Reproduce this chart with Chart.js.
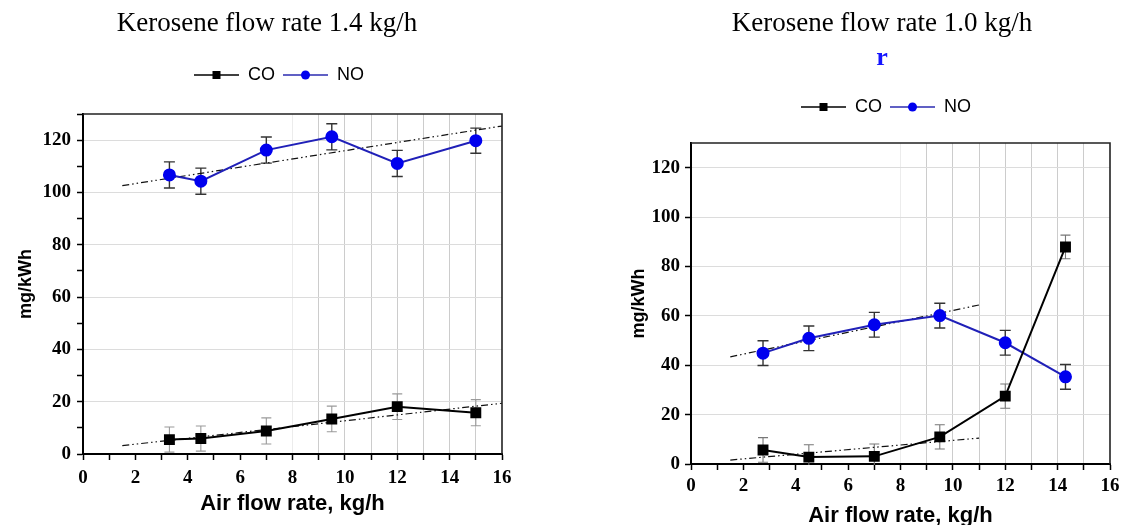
<!DOCTYPE html>
<html>
<head>
<meta charset="utf-8">
<script src="https://cdn.jsdelivr.net/npm/chart.js@4/dist/chart.umd.min.js"></script>
<style>
  html, body { margin: 0; padding: 0; background: #fff; overflow: hidden; width: 1121px; height: 525px; }
  .box { position: absolute; top: 0; }
</style>
</head>
<body>
<div class="box" style="left:0px;width:558px;height:525px;"><canvas id="c1" width="558" height="525"></canvas></div>
<div class="box" style="left:612px;width:538px;height:540px;"><canvas id="c2" width="538" height="540"></canvas></div>
<script>
// ---------- DATA ----------
const seriesNames = ['CO', 'NO'];
const xTickValues = [0, 2, 4, 6, 8, 10, 12, 14, 16];
const yTickValues = [0, 20, 40, 60, 80, 100, 120];

// Kerosene 1.4 kg/h
const airL   = [3.3, 4.5, 7, 9.5, 12, 15];
const coL    = [5.5, 5.9, 8.8, 13.4, 18.1, 15.8];
const coErrL = [4.8, 4.8, 5.0, 4.9, 4.9, 5.0];
const noL    = [106.7, 104.3, 116.2, 121.3, 111.1, 119.8];
const noErrL = [5.0, 5.0, 5.0, 5.0, 5.0, 4.8];
const trendXL   = [1.5, 16];
const coTrendL  = [3.2, 19.4];
const noTrendL  = [102.6, 125.4];

// Kerosene 1.0 kg/h
const airR   = [2.75, 4.5, 7, 9.5, 12, 14.3];
const coR    = [5.7, 2.8, 3.1, 11.0, 27.5, 87.9];
const coErrR = [5.0, 5.0, 5.0, 4.9, 4.9, 4.8];
const noR    = [44.9, 50.9, 56.4, 60.1, 49.1, 35.3];
const noErrR = [5.0, 5.0, 5.0, 5.0, 5.0, 5.0];
const trendXR   = [1.5, 11];
const coTrendR  = [1.6, 10.5];
const noTrendR  = [43.4, 64.4];

// ---------- HELPERS ----------
const pts = (xs, ys) => xs.map((x, i) => ({ x: x, y: ys[i] }));

function legendIcon(kind) {
  const c = document.createElement('canvas');
  c.width = 45; c.height = 12;
  const g = c.getContext('2d');
  g.strokeStyle = kind === 'co' ? '#000' : '#2b2bb0';
  g.lineWidth = 1.6;
  g.beginPath(); g.moveTo(0, 6); g.lineTo(45, 6); g.stroke();
  g.fillStyle = kind === 'co' ? '#000' : '#0000ee';
  if (kind === 'co') { g.fillRect(18.5, 2, 8, 8); }
  else { g.beginPath(); g.arc(22.5, 6, 4.5, 0, Math.PI * 2); g.fill(); }
  return c;
}
const icons = [legendIcon('co'), legendIcon('no')];

const errorBars = {
  id: 'errorBars',
  beforeDatasetsDraw(chart) {
    const { ctx, chartArea, scales } = chart;
    const xs = scales.x, ys = scales.y;
    ctx.save();
    ctx.beginPath();
    ctx.rect(chartArea.left, chartArea.top, chartArea.right - chartArea.left, chartArea.bottom - chartArea.top + 1);
    ctx.clip();
    chart.data.datasets.forEach(ds => {
      if (!ds.errors) return;
      ctx.strokeStyle = ds.errorColor;
      ctx.lineWidth = ds.errorWidth;
      ds.data.forEach((p, i) => {
        const e = ds.errors[i];
        const px = xs.getPixelForValue(p.x);
        const top = ys.getPixelForValue(p.y + e);
        const bot = ys.getPixelForValue(p.y - e);
        const c = ds.capHalf;
        ctx.beginPath();
        ctx.moveTo(px, top); ctx.lineTo(px, bot);
        ctx.moveTo(px - c, top); ctx.lineTo(px + c, top);
        ctx.moveTo(px - c, bot); ctx.lineTo(px + c, bot);
        ctx.stroke();
      });
    });
    ctx.restore();
  }
};

const frame = {
  id: 'frame',
  afterDraw(chart) {
    const { ctx, chartArea } = chart;
    ctx.save();
    ctx.strokeStyle = '#222';
    ctx.lineWidth = 1.6;
    ctx.beginPath();
    ctx.moveTo(chartArea.left, chartArea.top);
    ctx.lineTo(chartArea.right, chartArea.top);
    ctx.lineTo(chartArea.right, chartArea.bottom);
    ctx.stroke();
    ctx.restore();
  }
};

// adds extra space below the legend and recentres title / subtitle / legend horizontally
const shiftBoxes = {
  id: 'shiftBoxes',
  beforeLayout(chart, args, opts) {
    const lg = chart.legend;
    if (lg && !lg._extraPatched) {
      const origFit = lg.fit;
      lg.fit = function () { origFit.call(this); this.height += (opts.legendExtra || 0); };
      lg._extraPatched = true;
    }
  },
  afterLayout(chart, args, opts) {
    chart.boxes.forEach(box => {
      let target = null;
      if (box === chart.legend) target = opts.legend;
      else if (box === chart.titleBlock) target = opts.title;
      else if (box.options && typeof box.options.text === 'string' && !box.axis) target = opts.subtitle;
      if (target == null) return;
      const dx = target - (box.left + box.right) / 2;
      box.left += dx; box.right += dx;
    });
  }
};

function makeChart(id, cfg) {
  const datasets = [
    { label: seriesNames[0], data: pts(cfg.air, cfg.co), errors: cfg.coErr,
      errorColor: cfg.coErrColor, errorWidth: 1.1, capHalf: 5,
      borderColor: '#000', backgroundColor: '#000', borderWidth: 2,
      pointStyle: 'rect', pointRadius: 6.3, pointHoverRadius: 6.3 },
    { label: seriesNames[1], data: pts(cfg.air, cfg.no), errors: cfg.noErr,
      errorColor: '#333', errorWidth: 1.4, capHalf: 5.5,
      borderColor: '#2020b8', backgroundColor: '#0000ee', pointBorderColor: '#0000ee', borderWidth: 2,
      pointStyle: 'circle', pointRadius: 5.5, pointHoverRadius: 5.5 },
    { label: 'CO trend', data: pts(cfg.trendX, cfg.coTrend),
      borderColor: '#111', borderWidth: 1.2, borderDash: [7, 3, 1.5, 3, 1.5, 3], pointRadius: 0 },
    { label: 'NO trend', data: pts(cfg.trendX, cfg.noTrend),
      borderColor: '#111', borderWidth: 1.2, borderDash: [7, 3, 1.5, 3, 1.5, 3], pointRadius: 0 }
  ];
  const tickFont = { family: 'Liberation Serif', weight: 'bold', size: 19 };
  return new Chart(document.getElementById(id), {
    type: 'line',
    data: { datasets },
    plugins: [errorBars, frame, shiftBoxes],
    options: {
      responsive: false,
      animation: false,
      devicePixelRatio: 1,
      layout: { padding: { top: 0, left: 0, right: cfg.padRight, bottom: 0 } },
      plugins: {
        tooltip: { enabled: false },
        title: { display: true, text: cfg.title, color: '#000',
                 font: { family: 'Liberation Serif', size: 27, weight: 'normal' },
                 padding: { top: 7.8, bottom: cfg.titleBottom } },
        subtitle: { display: !!cfg.subtitle, text: cfg.subtitle || '', color: '#1515ff',
                    font: { family: 'Liberation Serif', size: 26, weight: 'bold' },
                    padding: { top: 2.1, bottom: 16.5 } },
        legend: {
          display: true,
          labels: {
            usePointStyle: true, pointStyleWidth: 45, boxHeight: 12, padding: 8,
            color: '#000', font: { family: 'Liberation Sans', size: 18 },
            filter: item => item.datasetIndex < 2,
            generateLabels(chart) {
              const items = Chart.defaults.plugins.legend.labels.generateLabels(chart);
              return items.filter(it => it.datasetIndex < 2).map(it => { it.pointStyle = icons[it.datasetIndex]; return it; });
            }
          }
        },
        shiftBoxes: cfg.shift
      },
      scales: {
        x: {
          type: 'linear', min: 0, max: 16,
          afterFit: s => { s.height = cfg.xHeight; },
          ticks: { stepSize: 1, autoSkip: false, maxRotation: 0, minRotation: 0, padding: cfg.xTickPad,
                   color: '#000', font: tickFont,
                   callback: v => xTickValues.includes(v) ? String(v) : '' },
          grid: { drawOnChartArea: true, tickLength: 6, tickWidth: 1.5, tickColor: '#000', lineWidth: 1,
                  color: c => { const v = c.tick ? c.tick.value : null;
                                if (v >= 9 && v <= 15) return '#cccccc';
                                if (v === 8) return '#ececec';
                                return 'rgba(0,0,0,0)'; } },
          border: { display: true, color: '#000', width: 2 },
          title: { display: true, text: 'Air flow rate, kg/h', color: '#000',
                   font: { family: 'Liberation Sans', weight: 'bold', size: 22 },
                   padding: { top: 0, bottom: cfg.xTitlePad } }
        },
        y: {
          type: 'linear', min: 0, max: 130,
          afterFit: s => { s.width = cfg.yWidth; },
          ticks: { stepSize: 10, padding: cfg.yTickPad, color: '#000', font: tickFont,
                   callback: v => yTickValues.includes(v) ? String(v) : '' },
          grid: { drawOnChartArea: true, tickLength: 6, tickWidth: 1.5, tickColor: '#000', lineWidth: 1,
                  color: c => { const v = c.tick ? c.tick.value : null;
                                return (v > 0 && yTickValues.includes(v)) ? '#dcdcdc' : 'rgba(0,0,0,0)'; } },
          border: { display: true, color: '#000', width: 2 },
          title: { display: true, text: 'mg/kWh', color: '#000',
                   font: { family: 'Liberation Sans', weight: 'bold', size: 18 },
                   padding: { top: cfg.yTitlePad, bottom: 0 } }
        }
      }
    }
  });
}

makeChart('c1', {
  title: 'Kerosene flow rate 1.4 kg/h', subtitle: null, titleBottom: 17.8,
  air: airL, co: coL, coErr: coErrL, no: noL, noErr: noErrL,
  trendX: trendXL, coTrend: coTrendL, noTrend: noTrendL,
  coErrColor: '#9a9a9a', padRight: 56, xHeight: 71, yWidth: 83,
  xTickPad: 7, yTickPad: 6, xTitlePad: 7.8, yTitlePad: 15.2,
  shift: { title: 267, legend: 279, legendExtra: 20 }
});
makeChart('c2', {
  title: 'Kerosene flow rate 1.0 kg/h', subtitle: 'r', titleBottom: 0,
  air: airR, co: coR, coErr: coErrR, no: noR, noErr: noErrR,
  trendX: trendXR, coTrend: coTrendR, noTrend: noTrendR,
  coErrColor: '#777777', padRight: 40, xHeight: 76, yWidth: 79,
  xTickPad: 5, yTickPad: 5, xTitlePad: 10.8, yTitlePad: 16.2,
  shift: { title: 270, subtitle: 270, legend: 274, legendExtra: 17 }
});
</script>
</body>
</html>
